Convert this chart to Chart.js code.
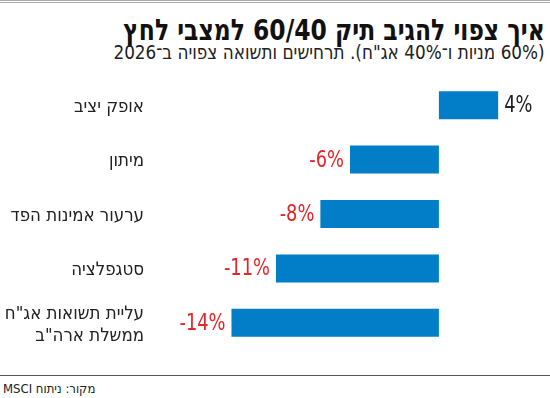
<!DOCTYPE html>
<html lang="he">
<head>
<meta charset="utf-8">
<script src="https://cdn.jsdelivr.net/npm/chart.js@4.4.1/dist/chart.umd.min.js"></script>
<style>
  body { margin: 0; background: #fff; font-family: 'Liberation Sans Narrow', 'DejaVu Sans Condensed', sans-serif; }
  #wrap { position: relative; width: 550px; height: 398px; overflow: hidden; }
  #topline { position: absolute; left: 0; top: 0; width: 550px; height: 1px; border-top: 1px solid #aaa; border-bottom: 1px solid #aaa; }
  #title { position: absolute; right: 5px; top: 13px; direction: rtl; font-size: 27px; font-weight: bold; color: #111; white-space: nowrap;
           transform: scale(0.965, 1.08); transform-origin: right top; }
  #subtitle { position: absolute; right: 5px; top: 40px; direction: rtl; font-size: 18px; color: #222; white-space: nowrap;
              transform: scale(1.04, 1.1); transform-origin: right top; }
  #chartbox { position: absolute; left: 0; top: 78px; width: 550px; height: 272px; }
  #bottomline { position: absolute; left: 0; top: 375px; width: 550px; height: 0; border-top: 1.5px solid #555; }
  #source { position: absolute; left: 3px; top: 381px; font-size: 13px; color: #222; white-space: nowrap; }
</style>
</head>
<body>
<div id="wrap">
  <div id="topline"></div>
  <div id="title">איך צפוי להגיב תיק 60/40 למצבי לחץ</div>
  <div id="subtitle">(60% מניות ו־40% אג"ח). תרחישים ותשואה צפויה ב־2026</div>
  <div id="chartbox"><canvas id="mychart"></canvas></div>
  <div id="bottomline"></div>
  <div id="source" dir="rtl">מקור: ניתוח MSCI</div>
</div>
<script>
// data
const scenarios = ['אופק יציב', 'מיתון', 'ערעור אמינות הפד', 'סטגפלציה', ['עליית תשואות אג"ח', 'ממשלת ארה"ב']];
const returns = [4, -6, -8, -11, -14];

const fontName = "'Liberation Sans Narrow', 'DejaVu Sans Condensed', sans-serif";

// value labels next to bars (slightly condensed)
const valueLabels = {
  id: 'valueLabels',
  afterDatasetsDraw(chart) {
    const c = chart.ctx;
    const meta = chart.getDatasetMeta(0);
    meta.data.forEach(function(bar, i) {
      const v = returns[i];
      const pos = v >= 0;
      c.save();
      c.font = '22px ' + fontName;
      c.textBaseline = 'middle';
      c.translate(pos ? bar.x + 6 : bar.x - 6, bar.y + 1);
      c.scale(0.9, 1.05);
      c.fillStyle = pos ? '#222' : '#e3262b';
      c.textAlign = pos ? 'left' : 'right';
      c.fillText(v + '%', 0, 0);
      c.restore();
    });
  }
};

const ctx = document.getElementById('mychart');
new Chart(ctx, {
  type: 'bar',
  data: {
    labels: scenarios,
    datasets: [{
      data: returns,
      backgroundColor: '#027dc8',
      borderWidth: 0,
      barPercentage: 0.515,
      categoryPercentage: 1
    }]
  },
  options: {
    indexAxis: 'y',
    responsive: true,
    maintainAspectRatio: false,
    animation: false,
    layout: { padding: 0 },
    plugins: { legend: { display: false }, tooltip: { enabled: false } },
    scales: {
      x: {
        min: -19.5,
        max: 7.5,
        display: false
      },
      y: {
        grid: { display: false, drawTicks: false },
        border: { display: false },
        ticks: {
          color: '#222',
          font: { family: fontName, size: 18.5 },
          padding: 6,
          labelOffset: 2
        },
        afterFit(scale) {
          scale.width = 150;
          scale.paddingTop = 0;
          scale.paddingBottom = 0;
        }
      }
    }
  },
  plugins: [valueLabels]
});
</script>
</body>
</html>
